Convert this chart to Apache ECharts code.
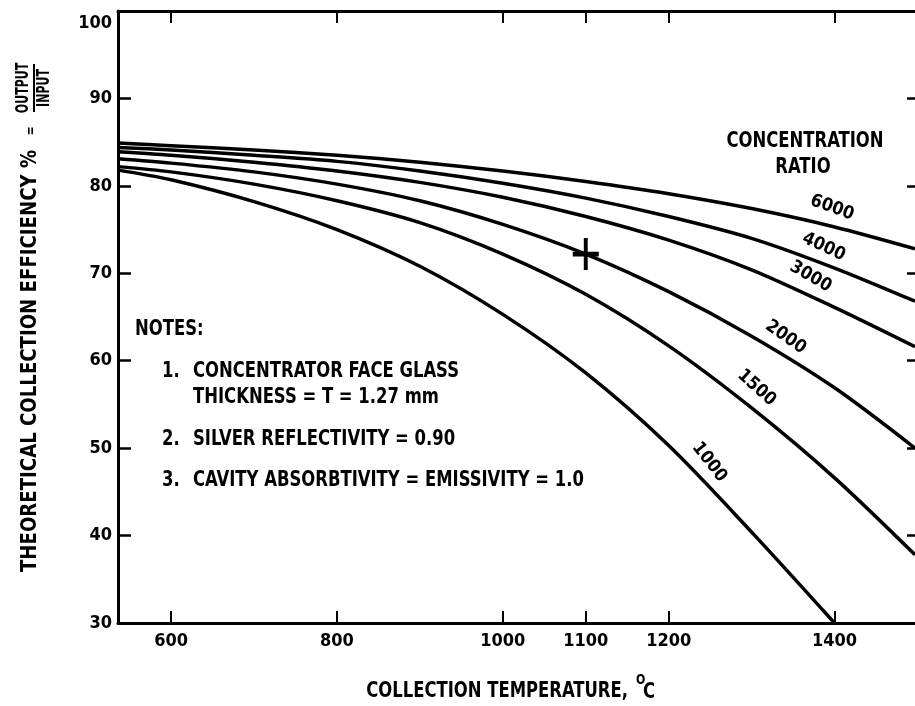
<!DOCTYPE html>
<html>
<head>
<meta charset="utf-8">
<script src="https://cdn.jsdelivr.net/npm/echarts@6/dist/echarts.min.js"></script>
<style>
html,body{margin:0;padding:0;background:#fff;}
#chart{width:915px;height:706px;}
</style>
</head>
<body>
<div id="chart"></div>
<script>
// ---- data (temperature °C, efficiency %) ----
const xTicks = [600, 800, 1000, 1100, 1200, 1400];
const yTicks = [30, 40, 50, 60, 70, 80, 90, 100];
const ratioNames = ['6000', '4000', '3000', '2000', '1500', '1000'];
const temps = [536, 600, 700, 800, 900, 1000, 1100, 1200, 1300, 1400, 1497];
const eff6000 = [84.9, 84.6, 84.1, 83.5, 82.7, 81.7, 80.5, 79.1, 77.4, 75.3, 72.8];
const eff4000 = [84.4, 84.1, 83.5, 82.8, 81.7, 80.3, 78.6, 76.5, 74.0, 70.6, 66.8];
const eff3000 = [83.9, 83.5, 82.7, 81.7, 80.4, 78.7, 76.5, 73.8, 70.4, 66.1, 61.6];
const eff2000 = [83.1, 82.6, 81.6, 80.2, 78.3, 75.6, 72.2, 67.9, 62.8, 56.9, 50.0];
const eff1500 = [82.2, 81.6, 80.2, 78.3, 75.8, 72.2, 67.6, 61.7, 54.6, 46.6, 37.8];
const temps1000 = [536, 600, 700, 800, 900, 1000, 1100, 1200, 1300, 1400];
const eff1000 = [81.8, 80.7, 78.2, 75.0, 70.8, 65.3, 58.6, 50.3, 40.4, 30.0];
const designPoint = [[1100, 72.2]];
const ratioLabelPos = [[1397,77.5],[1387,73.0],[1371,69.6],[1341,62.7],[1306,56.9],[1249,48.4]];

// ---- styles ----
const FONT = "'DejaVu Sans Condensed','Liberation Sans Narrow','Noto Sans',sans-serif";
const labelAngles = [-20, -25, -30, -35, -42, -52];
const SX = 0.87;

const zip = (xs, ys) => xs.map((x, i) => [x, ys[i]]);
const curves = [
  zip(temps, eff6000), zip(temps, eff4000), zip(temps, eff3000),
  zip(temps, eff2000), zip(temps, eff1500), zip(temps1000, eff1000)
];

const chart = echarts.init(document.getElementById('chart'), null, {renderer: 'canvas'});

const lineSeries = curves.map((c, i) => ({
  type: 'line', name: ratioNames[i], data: c, xAxisIndex: 0, yAxisIndex: 0,
  smooth: 0.3, showSymbol: false, symbol: 'none',
  lineStyle: {color: '#000', width: 3.5}, silent: true, z: 3
}));

function txt(x, y, text, opt) {
  opt = opt || {};
  return {
    type: 'text', x: x, y: y, silent: true,
    rotation: opt.rotation || 0, scaleX: opt.scaleX || SX, scaleY: 1,
    style: Object.assign({text: text, font: 'bold 21px ' + FONT, fill: '#000',
      textAlign: 'left', textVerticalAlign: 'middle'}, opt.style || {})
  };
}

const tickFont = {color: '#000', fontFamily: FONT, fontWeight: 'bold', fontSize: 18};

const option = {
  animation: false,
  backgroundColor: '#fff',
  grid: {left: 118, right: -1, top: 11, bottom: 83, containLabel: false},
  xAxis: [{
    type: 'value', min: 536, max: 1497, position: 'bottom',
    axisLine: {show: true, onZero: false, lineStyle: {color: '#000', width: 3}},
    axisTick: {show: true, inside: true, length: 12, customValues: xTicks, lineStyle: {color: '#000', width: 2}},
    axisLabel: Object.assign({show: true, customValues: xTicks, margin: 9, formatter: v => String(v)}, tickFont),
    splitLine: {show: false}
  }, {
    type: 'value', min: 536, max: 1497, position: 'top',
    axisLine: {show: true, onZero: false, lineStyle: {color: '#000', width: 3}},
    axisTick: {show: true, inside: true, length: 12, customValues: xTicks, lineStyle: {color: '#000', width: 2}},
    axisLabel: {show: false}, splitLine: {show: false}
  }],
  yAxis: [{
    type: 'value', min: 30, max: 100, interval: 10, position: 'left',
    axisLine: {show: true, onZero: false, lineStyle: {color: '#000', width: 3}},
    axisTick: {show: true, inside: true, length: 13, lineStyle: {color: '#000', width: 2.5}},
    axisLabel: Object.assign({show: true, margin: 6,
      formatter: v => v === 100 ? '{lo|' + v + '}' : String(v),
      rich: {lo: Object.assign({padding: [24, 0, 0, 0]}, tickFont)}}, tickFont),
    splitLine: {show: false}
  }, {
    type: 'value', min: 30, max: 100, interval: 10, position: 'right',
    axisLine: {show: false},
    axisTick: {show: true, inside: true, length: 8, lineStyle: {color: '#000', width: 2.5}},
    axisLabel: {show: false}, splitLine: {show: false}
  }],
  series: lineSeries.concat([{
    type: 'scatter', data: designPoint, silent: true, z: 5,
    symbol: 'path://M8.5,0h3v8.5h8.5v3h-8.5v8.5h-3v-8.5h-8.5v-3h8.5z', symbolSize: [26, 32],
    itemStyle: {color: '#000', opacity: 1}
  }, {
    type: 'scatter', silent: true, z: 6, symbol: 'circle', symbolSize: 1,
    itemStyle: {color: 'rgba(0,0,0,0)', opacity: 1},
    data: ratioLabelPos.map((p, i) => ({value: p, name: ratioNames[i],
      label: {rotate: labelAngles[i]}})),
    label: {show: true, position: 'inside', formatter: '{b}', color: '#000',
      fontFamily: FONT, fontWeight: 'bold', fontSize: 18}
  }]),
  graphic: [
    // legend heading
    txt(805, 142, 'CONCENTRATION', {style: {textAlign: 'center'}}),
    txt(803, 168, 'RATIO', {style: {textAlign: 'center'}}),
    // notes
    txt(135, 330, 'NOTES:'),
    txt(162, 372, '1.'),
    txt(193, 372, 'CONCENTRATOR FACE GLASS'),
    txt(193, 398, 'THICKNESS = T = 1.27 mm'),
    txt(162, 440, '2.'),
    txt(193, 440, 'SILVER REFLECTIVITY = 0.90'),
    txt(162, 481, '3.'),
    txt(193, 481, 'CAVITY ABSORBTIVITY = EMISSIVITY = 1.0'),
    // x axis title
    txt(628, 692, 'COLLECTION TEMPERATURE,', {style: {textAlign: 'right'}}),
    txt(636, 680, 'O', {style: {font: 'bold 14px ' + FONT}}),
    txt(643, 693, 'C'),
    // y axis title
    txt(31, 572, 'THEORETICAL COLLECTION EFFICIENCY %', {rotation: Math.PI / 2, scaleX: 0.96}),
    txt(31, 131, '=', {rotation: Math.PI / 2, style: {textAlign: 'center', font: 'bold 14px ' + FONT}}),
    txt(24, 88, 'OUTPUT', {rotation: Math.PI / 2, scaleX: 0.72, style: {textAlign: 'center', font: 'bold 17px ' + FONT}}),
    txt(45, 88, 'INPUT', {rotation: Math.PI / 2, scaleX: 0.72, style: {textAlign: 'center', font: 'bold 17px ' + FONT}}),
    {type: 'line', silent: true, shape: {x1: 34, y1: 64, x2: 34, y2: 112},
      style: {stroke: '#000', lineWidth: 2}}
  ]
};
chart.setOption(option);
</script>
</body>
</html>
